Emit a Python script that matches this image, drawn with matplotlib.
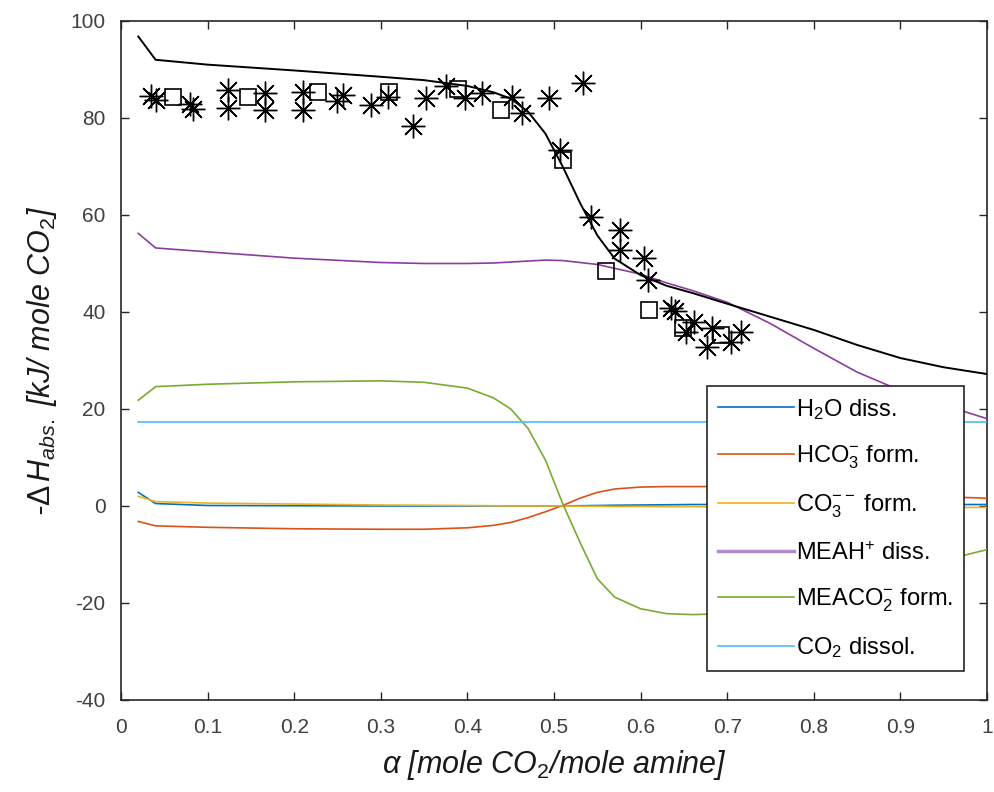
import matplotlib
matplotlib.use("Agg")
import matplotlib.pyplot as plt

plt.rcParams["font.family"] = ["Liberation Sans", "DejaVu Sans"]
plt.rcParams["axes.unicode_minus"] = False
plt.rcParams["mathtext.fontset"] = "custom"
plt.rcParams["mathtext.rm"] = "Liberation Sans"
plt.rcParams["mathtext.it"] = "Liberation Sans:italic"
plt.rcParams["mathtext.bf"] = "Liberation Sans:bold"

# CO2 loading grid for the model curves
alpha_model = [0.02, 0.04, 0.10, 0.20, 0.30, 0.35, 0.40, 0.43, 0.45, 0.47, 0.49,
               0.51, 0.53, 0.55, 0.57, 0.60, 0.63, 0.66, 0.70, 0.75, 0.80, 0.85,
               0.90, 0.95, 1.00]

total_heat = [96.8, 92.0, 91.0, 89.8, 88.5, 87.8, 86.6, 85.3, 84.0, 81.3, 76.8,
              70.0, 62.5, 55.8, 51.0, 47.6, 45.4, 43.9, 41.7, 39.0, 36.3, 33.2,
              30.5, 28.6, 27.2]

h2o_diss = [2.8, 0.5, 0.1, 0.05, 0.0, 0.0, 0.0, 0.0, 0.0, 0.0, 0.0,
            0.0, 0.05, 0.1, 0.15, 0.2, 0.25, 0.3, 0.3, 0.3, 0.3, 0.3,
            0.3, 0.3, 0.3]

hco3_form = [-3.2, -4.1, -4.4, -4.7, -4.8, -4.8, -4.5, -4.0, -3.4, -2.4, -1.2,
             0.1, 1.6, 2.8, 3.5, 3.9, 4.0, 4.0, 4.0, 3.7, 3.3, 2.8,
             2.3, 1.9, 1.6]

co3_form = [2.0, 0.9, 0.6, 0.4, 0.2, 0.15, 0.1, 0.05, 0.0, 0.0, 0.0,
            0.0, -0.05, -0.05, -0.1, -0.1, -0.15, -0.15, -0.2, -0.2, -0.25, -0.25,
            -0.3, -0.3, -0.3]

meah_diss = [56.2, 53.2, 52.4, 51.1, 50.2, 50.0, 50.0, 50.1, 50.3, 50.5, 50.7,
             50.6, 50.2, 49.8, 49.0, 47.8, 46.0, 44.4, 42.0, 37.6, 32.5, 27.6,
             23.8, 20.8, 18.0]

meaco2_form = [21.8, 24.6, 25.1, 25.6, 25.8, 25.5, 24.3, 22.3, 20.0, 16.0, 9.5,
               0.5, -7.5, -15.0, -18.8, -21.2, -22.2, -22.4, -22.2, -21.0, -18.8, -16.2,
               -13.6, -11.2, -9.0]

co2_dissol = [17.3] * len(alpha_model)

# Measured heats of absorption (two data sets)
alpha_star = [0.035, 0.040, 0.080, 0.083, 0.124, 0.124, 0.166, 0.166, 0.210, 0.210,
              0.250, 0.256, 0.289, 0.308, 0.337, 0.352, 0.375, 0.397, 0.417, 0.451,
              0.463, 0.494, 0.534, 0.507, 0.543, 0.576, 0.576, 0.604, 0.608, 0.635,
              0.640, 0.652, 0.662, 0.683, 0.677, 0.704, 0.716]
heat_star = [84.6, 83.8, 82.8, 81.8, 85.8, 82.0, 85.2, 81.6, 85.4, 81.6,
             83.5, 84.8, 82.7, 84.4, 78.4, 84.1, 86.6, 84.1, 85.1, 84.4,
             81.0, 84.1, 87.2, 73.4, 59.5, 56.9, 52.8, 51.1, 46.5, 40.8,
             40.2, 35.9, 38.0, 36.6, 32.8, 33.9, 35.9]

alpha_square = [0.060, 0.147, 0.228, 0.310, 0.389, 0.439, 0.510, 0.560, 0.610, 0.649, 0.693]
heat_square = [84.3, 84.3, 85.4, 85.4, 85.9, 81.6, 71.3, 48.5, 40.4, 36.6, 35.3]

x_ticks = [0, 0.1, 0.2, 0.3, 0.4, 0.5, 0.6, 0.7, 0.8, 0.9, 1.0]
x_tick_labels = ["0", "0.1", "0.2", "0.3", "0.4", "0.5", "0.6", "0.7", "0.8", "0.9", "1"]
y_ticks = [-40, -20, 0, 20, 40, 60, 80, 100]

fig = plt.figure(figsize=(9.94, 7.92), dpi=100)
ax = fig.add_axes([0.1217, 0.1162, 0.8713, 0.8573])

ax.plot(alpha_model, total_heat, color="black", lw=1.4, zorder=5)

contrib = [
    (h2o_diss, "#0072BD", "H$_2$O diss."),
    (hco3_form, "#D95319", "HCO$_3^{-}$ form."),
    (co3_form, "#EDB120", "CO$_3^{--}$ form."),
    (meah_diss, "#8B3D9E", "MEAH$^{+}$ diss."),
    (meaco2_form, "#77AC30", "MEACO$_2^{-}$ form."),
    (co2_dissol, "#4DBEEE", "CO$_2$ dissol."),
]
handles = []
for vals, col, lab in contrib:
    h, = ax.plot(alpha_model, vals, color=col, lw=1.2, label=lab, zorder=3)
    handles.append(h)

ax.plot(alpha_star, heat_star, linestyle="none", marker=(8, 2, 0), markersize=17,
        markeredgecolor="black", markeredgewidth=1.0, color="black", zorder=6)
ax.plot(alpha_square, heat_square, linestyle="none", marker="s", markersize=12,
        markerfacecolor="none", markeredgecolor="black", markeredgewidth=1.2, zorder=6)

ax.set_xlim(0, 1)
ax.set_ylim(-40, 100)
ax.set_xticks(x_ticks)
ax.set_xticklabels(x_tick_labels)
ax.set_yticks(y_ticks)
ax.tick_params(direction="in", top=True, right=True, length=6, width=1.0,
               colors="#262626", labelcolor="#404040", labelsize=15)
ax.tick_params(axis="x", pad=13)
ax.tick_params(axis="y", pad=11)
for sp in ax.spines.values():
    sp.set_color("#262626")
    sp.set_linewidth(1.2)

ax.set_xlabel(r"$\mathit{\alpha}$ [mole CO$_2$/mole amine]",
              fontsize=22, style="italic", color="#1a1a1a", labelpad=8)
ax.set_ylabel(r"-$\mathit{\Delta\,H_{abs.}}$ [kJ/ mole CO$_2$]",
              fontsize=22, style="italic", color="#1a1a1a", labelpad=8)

leg = ax.legend(handles=handles, loc="upper left", bbox_to_anchor=(0.6767, 0.4624),
                borderaxespad=0, fontsize=17, handlelength=3.25, handletextpad=0.05,
                labelspacing=0.92, borderpad=0.45, frameon=True, fancybox=False,
                edgecolor="#262626", framealpha=1.0)
leg.get_frame().set_linewidth(1.2)
leg.legend_handles[3].set_linewidth(2.5)
leg.legend_handles[3].set_color("#B48AC8")

fig.savefig("out.png", dpi=100)
